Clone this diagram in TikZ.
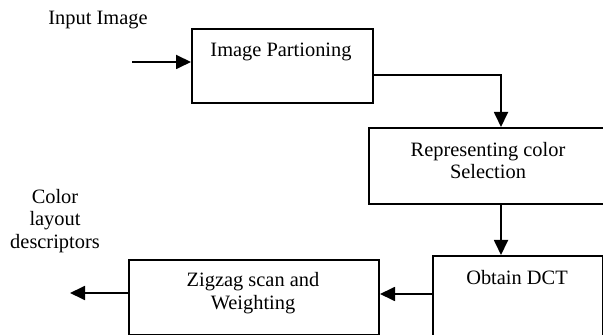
\documentclass[tikz,border=0pt]{standalone}
\usepackage{fontspec}
\setmainfont{Liberation Serif}
\usetikzlibrary{arrows.meta,calc}
\begin{document}
\begin{tikzpicture}[x=0.5pt,y=-0.5pt,
  blk/.style={draw,line width=1pt,inner sep=0pt},
  txt/.style={font=\fontsize{10.2}{11.4}\selectfont,align=center,inner sep=0pt},
  arr/.style={line width=0.9pt,-{Triangle[length=7.5pt,width=7pt]}}]
\useasboundingbox (0,0) rectangle (603,335);
% process boxes (corner to corner)
\node[blk,minimum width=90.5pt,minimum height=37pt,anchor=north west] (b1) at (191,28) {};
\node[blk,minimum width=120pt,minimum height=38pt,anchor=north west] (b2) at (368,127) {};
\node[blk,minimum width=85pt,minimum height=45pt,anchor=north west] (b3) at (432,255) {};
\node[blk,minimum width=125pt,minimum height=37.5pt,anchor=north west] (b4) at (128,259) {};
% texts
\node[txt] (tin) at (98,20) {Input Image};
\node[txt] (t1) at (281,52) {Image Partioning};
\node[txt] (t2) at (488,160.5) {Representing color\\Selection};
\node[txt] (t3) at (517,278) {Obtain DCT};
\node[txt] (t4) at (253,293) {Zigzag scan and\\Weighting};
\node[txt] (tout) at (55,221) {Color\\layout\\descriptors};
% connectors
\coordinate (in) at (132,62);
\coordinate (out) at (70,293);
\coordinate (dct) at ($(b3.west)+(0,-7)$);
\draw[arr] (in) -- (in -| b1.west);
\draw[arr] ($(b1.east)+(0,9)$) -| ($(b2.north)+(12,0)$);
\draw[arr] ($(b2.south)+(12,0)$) -- ($(b3.north)+(-17,0)$);
\draw[arr] (dct) -- (dct -| b4.east);
\draw[arr] (out -| b4.west) -- (out);
\end{tikzpicture}
\end{document}
